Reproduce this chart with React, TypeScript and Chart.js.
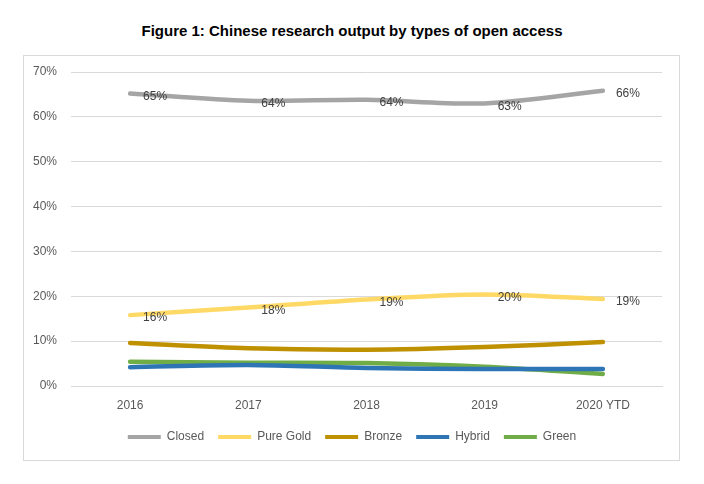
import { useEffect, useRef } from 'react';
import { Chart, registerables } from 'chart.js';

Chart.register(...registerables);

const years = ['2016', '2017', '2018', '2019', '2020 YTD'];
const closed = [65.2, 63.6, 63.8, 63.0, 65.8];
const pureGold = [15.8, 17.5, 19.3, 20.4, 19.4];
const bronze = [9.6, 8.4, 8.1, 8.7, 9.8];
const hybrid = [4.2, 4.7, 4.0, 3.8, 3.8];
const green = [5.4, 5.2, 5.1, 4.3, 2.7];
const yTicks = [0, 10, 20, 30, 40, 50, 60, 70];

const FONT = "'Liberation Sans', Arial, sans-serif";

// draws the % labels next to Closed and Pure Gold points
const pointLabels = {
  id: 'pointLabels',
  afterDatasetsDraw(chart: any) {
    const ctx = chart.ctx;
    ctx.save();
    ctx.font = `12px ${FONT}`;
    ctx.fillStyle = '#404040';
    ctx.textAlign = 'center';
    ctx.textBaseline = 'middle';
    [0, 1].forEach((di) => {
      const meta = chart.getDatasetMeta(di);
      const vals = chart.data.datasets[di].data as number[];
      meta.data.forEach((pt: any, i: number) => {
        ctx.fillText(Math.round(vals[i]) + '%', pt.x + 25, pt.y + 3);
      });
    });
    ctx.restore();
  },
};

// legend is centred on the whole box in the original, not on the padded area
const legendShift = {
  id: 'legendShift',
  afterLayout(chart: any) {
    const lg = chart.legend;
    if (!lg) return;
    lg.left += 11;
    lg.right += 11;
  },
};

export default function App() {
  const canvasRef = useRef<HTMLCanvasElement>(null);
  const chartRef = useRef<Chart | null>(null);

  useEffect(() => {
    if (!canvasRef.current) return;
    if (chartRef.current) chartRef.current.destroy();

    const mk = (label: string, data: number[], color: string) => ({
      label,
      data,
      borderColor: color,
      backgroundColor: color,
      borderWidth: 4.5,
      pointRadius: 0,
      tension: 0.3,
      borderCapStyle: 'round' as const,
      fill: false,
    });

    chartRef.current = new Chart(canvasRef.current, {
      type: 'line',
      data: {
        labels: years,
        datasets: [
          mk('Closed', closed, '#A5A5A5'),
          mk('Pure Gold', pureGold, '#FFD966'),
          mk('Bronze', bronze, '#BF9000'),
          mk('Hybrid', hybrid, '#2E75B6'),
          mk('Green', green, '#70AD47'),
        ],
      },
      options: {
        responsive: false,
        animation: false,
        devicePixelRatio: 1,
        layout: { padding: { left: 20, right: 42, top: 72, bottom: 31 } },
        plugins: {
          title: { display: false },
          tooltip: { enabled: false },
          legend: {
            position: 'bottom',
            labels: {
              font: { family: FONT, size: 12 },
              color: '#595959',
              boxWidth: 33,
              boxHeight: 4,
              padding: 14,
              generateLabels: (chart: any) =>
                Chart.defaults.plugins.legend.labels
                  .generateLabels(chart)
                  .map((l: any) => ({ ...l, lineWidth: 0 })),
            },
          },
        },
        scales: {
          x: {
            offset: true,
            grid: { display: false, drawTicks: false },
            border: { display: true, color: '#D9D9D9' },
            ticks: { font: { family: FONT, size: 12 }, color: '#595959', padding: 12 },
            afterFit: (s: any) => {
              s.height = 31;
            },
          },
          y: {
            min: 0,
            max: 70,
            grid: { color: '#D9D9D9', drawTicks: false },
            border: { display: false },
            afterBuildTicks: (s: any) => {
              s.ticks = yTicks.map((v) => ({ value: v }));
            },
            ticks: {
              font: { family: FONT, size: 12 },
              color: '#595959',
              padding: 14,
              callback: (v: any) => v + '%',
            },
            afterFit: (s: any) => {
              s.width = 51;
            },
          },
        },
      },
      plugins: [pointLabels, legendShift],
    });

    return () => {
      if (chartRef.current) {
        chartRef.current.destroy();
        chartRef.current = null;
      }
    };
  }, []);

  return (
    <div style={{ position: 'fixed', left: 0, top: 0, width: 704, height: 484, background: '#fff' }}>
      <div
        style={{
          position: 'absolute',
          top: 22,
          left: 0,
          width: 704,
          textAlign: 'center',
          fontFamily: FONT,
          fontWeight: 'bold',
          fontSize: 15,
          lineHeight: '18px',
          color: '#000',
        }}
      >
        Figure 1: Chinese research output by types of open access
      </div>
      <div
        style={{
          position: 'absolute',
          left: 23,
          top: 55,
          width: 655,
          height: 404,
          border: '1px solid #D9D9D9',
        }}
      />
      <canvas ref={canvasRef} width={704} height={484} style={{ position: 'absolute', left: 0, top: 0 }} />
    </div>
  );
}
